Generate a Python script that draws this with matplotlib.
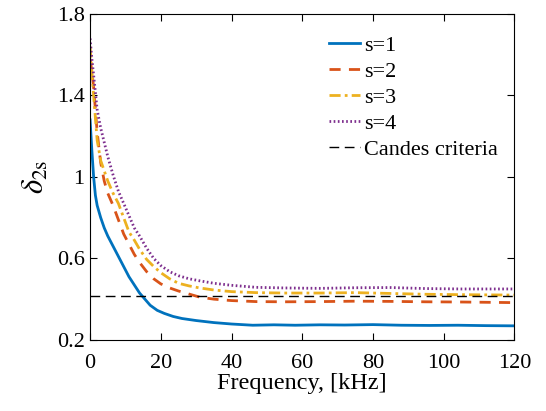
import matplotlib.pyplot as plt

plt.rcParams['font.family'] = ['Liberation Serif', 'DejaVu Serif']
plt.rcParams['mathtext.fontset'] = 'stix'

# s=1
freq_s1 = [0, 0.5, 1, 1.5, 2, 3, 4, 5, 6.5, 8, 9.5, 11, 12.5, 14, 15.5, 17, 19, 21, 23.5,
           26, 30, 35, 40, 46, 52, 58, 65, 72, 80, 88, 96, 104, 112, 120]
delta_s1 = [1.28, 1.13, 1.0, 0.91, 0.86, 0.80, 0.75, 0.71, 0.66, 0.61, 0.56, 0.51, 0.47, 0.43,
            0.40, 0.37, 0.345, 0.33, 0.315, 0.305, 0.295, 0.285, 0.278, 0.272, 0.274, 0.272,
            0.274, 0.273, 0.275, 0.272, 0.271, 0.272, 0.270, 0.269]

# s=2..4 share the same frequency grid
freq = [0, 0.5, 1, 2, 3, 4, 5, 6.5, 8, 9.5, 11, 12.5, 14, 16, 18, 20, 22.5, 25, 28, 31,
        35, 40, 47, 55, 65, 75, 85, 95, 105, 120]
delta_s2 = [1.58, 1.52, 1.44, 1.22, 1.07, 0.98, 0.92, 0.86, 0.79, 0.72, 0.67, 0.62, 0.58,
            0.535, 0.50, 0.475, 0.455, 0.44, 0.425, 0.41, 0.40, 0.393, 0.388, 0.387, 0.388,
            0.39, 0.389, 0.387, 0.386, 0.383]
delta_s3 = [1.64, 1.52, 1.40, 1.18, 1.08, 1.03, 0.98, 0.92, 0.87, 0.80, 0.73, 0.69, 0.645,
            0.595, 0.56, 0.53, 0.50, 0.478, 0.465, 0.455, 0.445, 0.437, 0.432, 0.43, 0.43,
            0.432, 0.428, 0.424, 0.422, 0.42]
delta_s4 = [1.68, 1.58, 1.50, 1.33, 1.24, 1.17, 1.10, 1.01, 0.93, 0.87, 0.81, 0.75, 0.71,
            0.65, 0.60, 0.565, 0.535, 0.515, 0.50, 0.49, 0.478, 0.468, 0.458, 0.455, 0.453,
            0.456, 0.457, 0.452, 0.45, 0.45]

candes = 2 ** 0.5 - 1

fig = plt.figure(figsize=(5.46, 4.11), dpi=100)
ax = fig.add_axes([0.165, 0.173, 0.777, 0.793])

ax.plot(freq_s1, delta_s1, color='#0072BD', lw=2, label='s=1')
ax.plot(freq, delta_s2, color='#D95319', lw=2, ls=(0, (4, 3)), label='s=2')
ax.plot(freq, delta_s3, color='#EDB120', lw=2, ls=(0, (4, 1.5, 1, 1.5)), label='s=3')
ax.plot(freq, delta_s4, color='#7E2F8E', lw=2, ls=(0, (0.6, 0.9)), label='s=4')
ax.axhline(candes, color='black', lw=1, ls=(0, (7, 4)), label='Candes criteria')

ax.set_xlim(0, 120)
ax.set_ylim(0.2, 1.8)
ax.set_xticks([0, 20, 40, 60, 80, 100, 120])
ax.set_yticks([0.2, 0.6, 1.0, 1.4, 1.8])
ax.set_yticklabels(['0.2', '0.6', '1', '1.4', '1.8'])
ax.tick_params(direction='in', top=True, right=True, labelsize=16, length=5, width=0.8,
               pad=4)
ax.tick_params(axis='x', pad=10)
for sp in ax.spines.values():
    sp.set_linewidth(0.8)

ax.set_xlabel('Frequency, [kHz]', fontsize=17.5, labelpad=0)
ax.set_ylabel(r'$\delta_{\rm 2s}$', fontsize=22, labelpad=4)

ax.legend(loc='upper right', bbox_to_anchor=(1, 0.985), frameon=False, fontsize=16,
          handlelength=1.4, handletextpad=0.15, labelspacing=0.24, borderaxespad=0.35)

fig.savefig('out.png', dpi=100)
